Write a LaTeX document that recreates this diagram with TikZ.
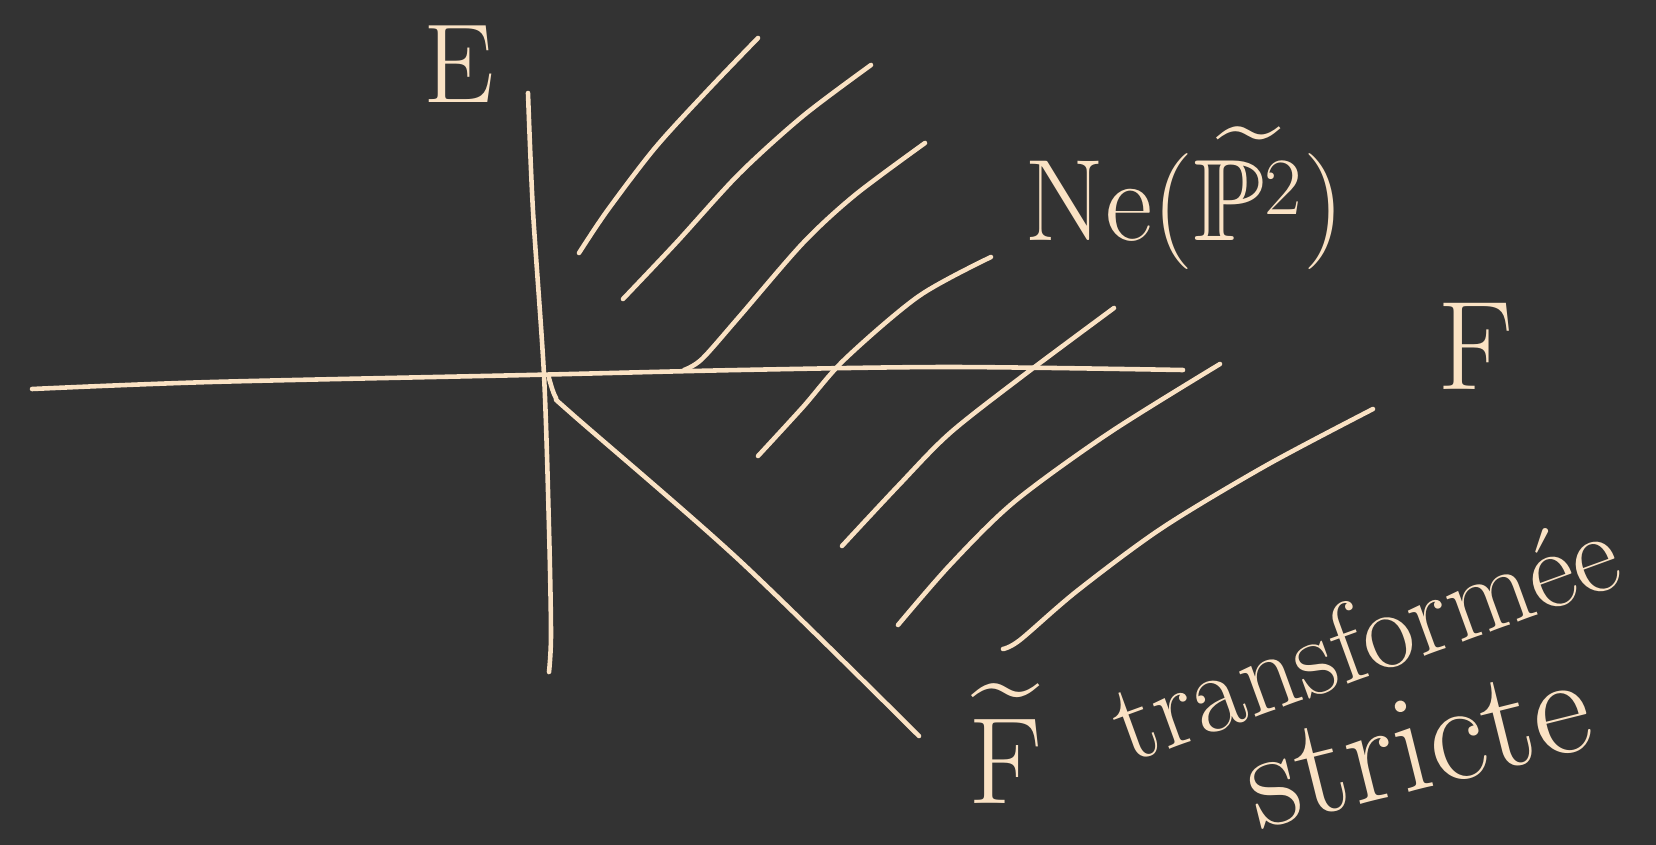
\documentclass[tikz,border=0pt]{standalone}
\usepackage{amsmath,amssymb}
\usetikzlibrary{positioning}
\definecolor{board}{RGB}{51,51,51}
\definecolor{chalk}{RGB}{250,226,196}

\begin{document}
\begin{tikzpicture}[x=0.01cm,y=-0.01cm,
  stroke/.style={draw=chalk,line width=1.3pt,line cap=round,line join=round},
  hatch/.style={stroke},
  lbl/.style={text=chalk,inner sep=0pt,font=\fontsize{32}{38}\selectfont}
]
  \fill[board] (0,0) rectangle (1656,845);
  \useasboundingbox (0,0) rectangle (1656,845);

  % axes E and F
  \draw[stroke] plot[smooth] coordinates
    {(32,389) (211,382) (528,375) (739,370) (950,367) (1183,370)};
  \draw[stroke] plot[smooth] coordinates
    {(528,93) (533,211) (544,375) (549,528) (551,634) (549,672)};
  % strict transform
  \draw[stroke] plot[smooth] coordinates
    {(549,378) (556,398) (572,414) (739,560) (919,736)};

  % hatching of the cone
  \draw[hatch] plot[smooth] coordinates {(579,253) (607,211) (655,148) (708,90) (758,38)};
  \draw[hatch] plot[smooth] coordinates {(623,299) (676,243) (739,174) (803,116) (871,65)};
  \draw[hatch] plot[smooth] coordinates {(684,370) (702,359) (739,317) (803,243) (855,195) (925,143)};
  \draw[hatch] plot[smooth] coordinates {(758,456) (803,407) (845,359) (919,296) (991,257)};
  \draw[hatch] plot[smooth] coordinates {(842,546) (898,486) (950,433) (1024,375) (1114,308)};
  \draw[hatch] plot[smooth] coordinates {(898,625) (950,565) (1014,502) (1109,433) (1220,364)};
  \draw[hatch] plot[smooth] coordinates {(1003,649) (1020,640) (1077,591) (1162,528) (1267,465) (1373,409)};

  \node[lbl] (E) at (459,64) {E};
  \node[lbl,font=\fontsize{36}{42}\selectfont] (F) at (1476,346) {F};
  \node[lbl,font=\fontsize{33}{40}\selectfont,anchor=base west] (Ne) at (1024,240)
    {Ne($\widetilde{\mathbb{P}^{\text{2}}}$)};
  \node[lbl,font=\fontsize{35}{42}\selectfont,anchor=base] (Ft) at (1006,803)
    {$\widetilde{\text{F}}$};
  \node[lbl,anchor=base west,rotate=20]
    (trans) at (1128,764) {transformée};
  \node[lbl,font=\fontsize{40}{46}\selectfont,anchor=base west,rotate=14]
    (strict) at (1258,830) {stricte};
\end{tikzpicture}
\end{document}
